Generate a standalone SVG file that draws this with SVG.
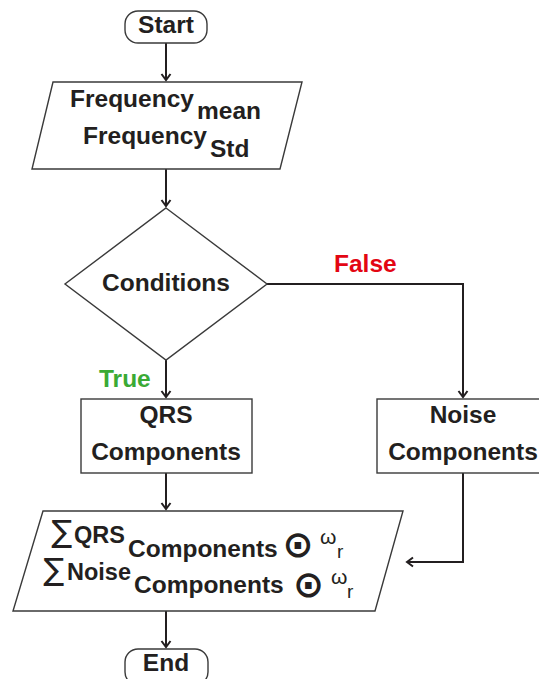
<svg xmlns="http://www.w3.org/2000/svg" width="539" height="679" viewBox="0 0 539 679">
  <defs>
    <marker id="arr" markerUnits="userSpaceOnUse" markerWidth="12" markerHeight="12" refX="0" refY="0" orient="auto" overflow="visible">
      <path d="M-6,-4.5 L0,0 L-6,4.5" fill="none" stroke="#231f20" stroke-width="2"/>
    </marker>
  </defs>
  <style>
    .shape { fill: #ffffff; stroke: #3a3a3a; stroke-width: 1.4; }
    .conn { fill: none; stroke: #231f20; stroke-width: 2; }
    .t { font-family: "Liberation Sans", Arial, sans-serif; font-weight: bold; font-size: 24.5px; fill: #231f20; }
    .c { text-anchor: middle; }
    .sum { font-family: "DejaVu Sans", sans-serif; font-size: 31px; fill: #231f20; text-anchor: middle; }
    .odot { font-family: "DejaVu Sans", sans-serif; font-weight: bold; font-size: 37px; fill: #231f20; text-anchor: middle; }
    .reg { font-family: "Liberation Sans", Arial, sans-serif; fill: #231f20; }
  </style>
  <rect width="539" height="679" fill="#ffffff"/>
  <g id="connectors">
    <path class="conn" d="M166,43 V80" marker-end="url(#arr)"/>
    <path class="conn" d="M166,169 V206" marker-end="url(#arr)"/>
    <path class="conn" d="M166,360 V397" marker-end="url(#arr)"/>
    <path class="conn" d="M267,284 H463 V397" marker-end="url(#arr)"/>
    <path class="conn" d="M166,473 V509" marker-end="url(#arr)"/>
    <path class="conn" d="M463,473 V562 H407" marker-end="url(#arr)"/>
    <path class="conn" d="M166,611 V647" marker-end="url(#arr)"/>
    <text class="t" x="334" y="272" style="fill:#e30613">False</text>
    <text class="t" x="99" y="387" style="fill:#3aaa35">True</text>
  </g>
  <g id="start">
    <rect class="shape" x="125" y="11" width="82" height="32" rx="13"/>
    <text class="t c" x="166" y="33">Start</text>
  </g>
  <g id="frequency">
    <polygon class="shape" points="53,82 302,82 280,169 32,169"/>
    <text class="t" x="70" y="107">Frequency<tspan x="197" y="119">mean</tspan></text>
    <text class="t" x="83" y="144">Frequency<tspan x="210" y="157">Std</tspan></text>
  </g>
  <g id="conditions">
    <polygon class="shape" points="166,208 267,284 166,360 65,284"/>
    <text class="t c" x="166" y="291">Conditions</text>
  </g>
  <g id="qrs">
    <rect class="shape" x="81" y="399" width="171" height="74"/>
    <text class="t c" x="166" y="423">QRS</text>
    <text class="t c" x="166" y="460">Components</text>
  </g>
  <g id="noise">
    <rect class="shape" x="377" y="399" width="172" height="74"/>
    <text class="t c" x="463" y="423">Noise</text>
    <text class="t c" x="463" y="460">Components</text>
  </g>
  <g id="sum">
    <polygon class="shape" points="43,511 403,511 375,611 13,611"/>
    <text class="sum" x="62" y="542">∑</text>
    <text class="t" x="74" y="543" style="font-size:23.5px">QRS</text>
    <text class="t" x="128" y="557">Components</text>
    <text class="odot" x="298" y="557">⊙</text>
    <text class="reg" x="320" y="544" font-size="21">ω</text>
    <text class="reg" x="337" y="558" font-size="19">r</text>
    <text class="sum" x="54" y="580">∑</text>
    <text class="t" x="67" y="580" style="font-size:23.5px">Noise</text>
    <text class="t" x="134" y="593">Components</text>
    <text class="odot" x="308.5" y="597">⊙</text>
    <text class="reg" x="331" y="584" font-size="21">ω</text>
    <text class="reg" x="347" y="598" font-size="19">r</text>
  </g>
  <g id="end">
    <rect class="shape" x="125" y="649" width="83" height="36" rx="13"/>
    <text class="t c" x="166" y="671">End</text>
  </g>
</svg>
